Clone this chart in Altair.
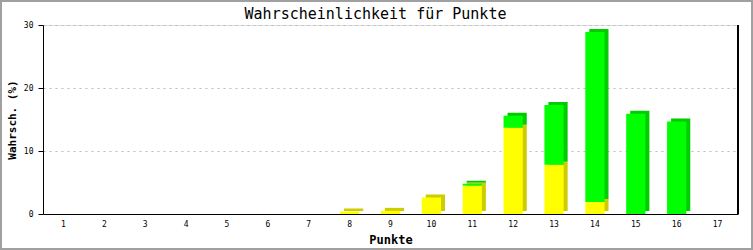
import altair as alt
import pandas as pd

# --- data ---
punkte = list(range(1, 18))
gelb = [0, 0, 0, 0, 0, 0, 0, 0.4, 0.5, 2.6, 4.5, 13.7, 7.8, 1.9, 0, 0, 0]
gruen = [0, 0, 0, 0, 0, 0, 0, 0, 0, 0, 0.3, 1.9, 9.5, 27.0, 15.9, 14.7, 0]
serien = ["gelb", "gruen"]
front_farben = ["#ffff00", "#00ff00"]
seiten_farben = ["#cccc00", "#00cc00"]

rows = []
for i, p in enumerate(punkte):
    rows.append({"Punkte": str(p), "serie": "gelb", "ord": 0, "wert": gelb[i]})
    rows.append({"Punkte": str(p), "serie": "gruen", "ord": 1, "wert": gruen[i]})
df = pd.DataFrame(rows)

W, H = 695, 189
PAD = {"left": 43, "top": 25, "right": 15, "bottom": 36}
MONO = "DejaVu Sans Mono"

x_enc = alt.X(
    "Punkte:N",
    sort=[str(p) for p in punkte],
    scale=alt.Scale(paddingInner=0.53, paddingOuter=0.265),
    axis=alt.Axis(
        title="Punkte",
        labelAngle=0,
        ticks=False,
        labelPadding=6,
        labelFont=MONO,
        labelFontSize=8,
        labelColor="black",
        domainColor="black",
        titleFont=MONO,
        titleFontSize=12,
        titleFontWeight="bold",
        titleColor="black",
        titleBaseline="middle",
        titleY=25,
    ),
)

y_enc = alt.Y(
    "wert:Q",
    stack="zero",
    scale=alt.Scale(domain=[0, 30], nice=False),
    axis=alt.Axis(
        title="Wahrsch. (%)",
        values=[0, 10, 20, 30],
        tickSize=5,
        tickColor="black",
        labelPadding=5,
        labelFont=MONO,
        labelFontSize=8,
        labelColor="black",
        domainColor="black",
        grid=True,
        gridColor="#bbbbbb",
        gridDash=[2, 4],
        titleFont=MONO,
        titleFontSize=11,
        titleFontWeight="bold",
        titleColor="black",
        titleBaseline="middle",
        titleX=-31,
        titleY=H / 2,
    ),
)

seite = alt.Chart(df).mark_bar(xOffset=4, yOffset=-3).encode(
    x=x_enc,
    y=y_enc,
    order=alt.Order("ord:Q"),
    color=alt.Color("serie:N", scale=alt.Scale(domain=serien, range=seiten_farben), legend=None),
)

front = alt.Chart(df).mark_bar().encode(
    x=x_enc,
    y=y_enc,
    order=alt.Order("ord:Q"),
    color=alt.Color("serie:N", scale=alt.Scale(domain=serien, range=front_farben), legend=None),
)

rechts = alt.Chart(df).mark_rule(color="black").encode(
    x=alt.value(W), y=alt.value(0), y2=alt.value(H)
)

rahmen = alt.Chart(df).mark_rect(filled=False, stroke="#a0a0a0", strokeWidth=2).encode(
    x=alt.value(-PAD["left"] + 1),
    x2=alt.value(W + PAD["right"] - 1),
    y=alt.value(-PAD["top"] + 1),
    y2=alt.value(H + PAD["bottom"] - 1),
)

chart = (
    alt.layer(seite, front, rechts, rahmen)
    .resolve_scale(color="independent")
    .properties(
        width=W,
        height=H,
        autosize=alt.AutoSizeParams(type="none"),
        padding=PAD,
        title=alt.TitleParams(
            "Wahrscheinlichkeit für Punkte",
            font=MONO,
            fontSize=15,
            fontWeight="normal",
            color="black",
            anchor="middle",
            frame="group",
            baseline="alphabetic",
            offset=-34,
            dx=-15,
        ),
    )
    .configure_view(stroke=None)
    .configure(background="white")
)

chart.save("out.html", embed_options={"renderer": "svg", "actions": False})
